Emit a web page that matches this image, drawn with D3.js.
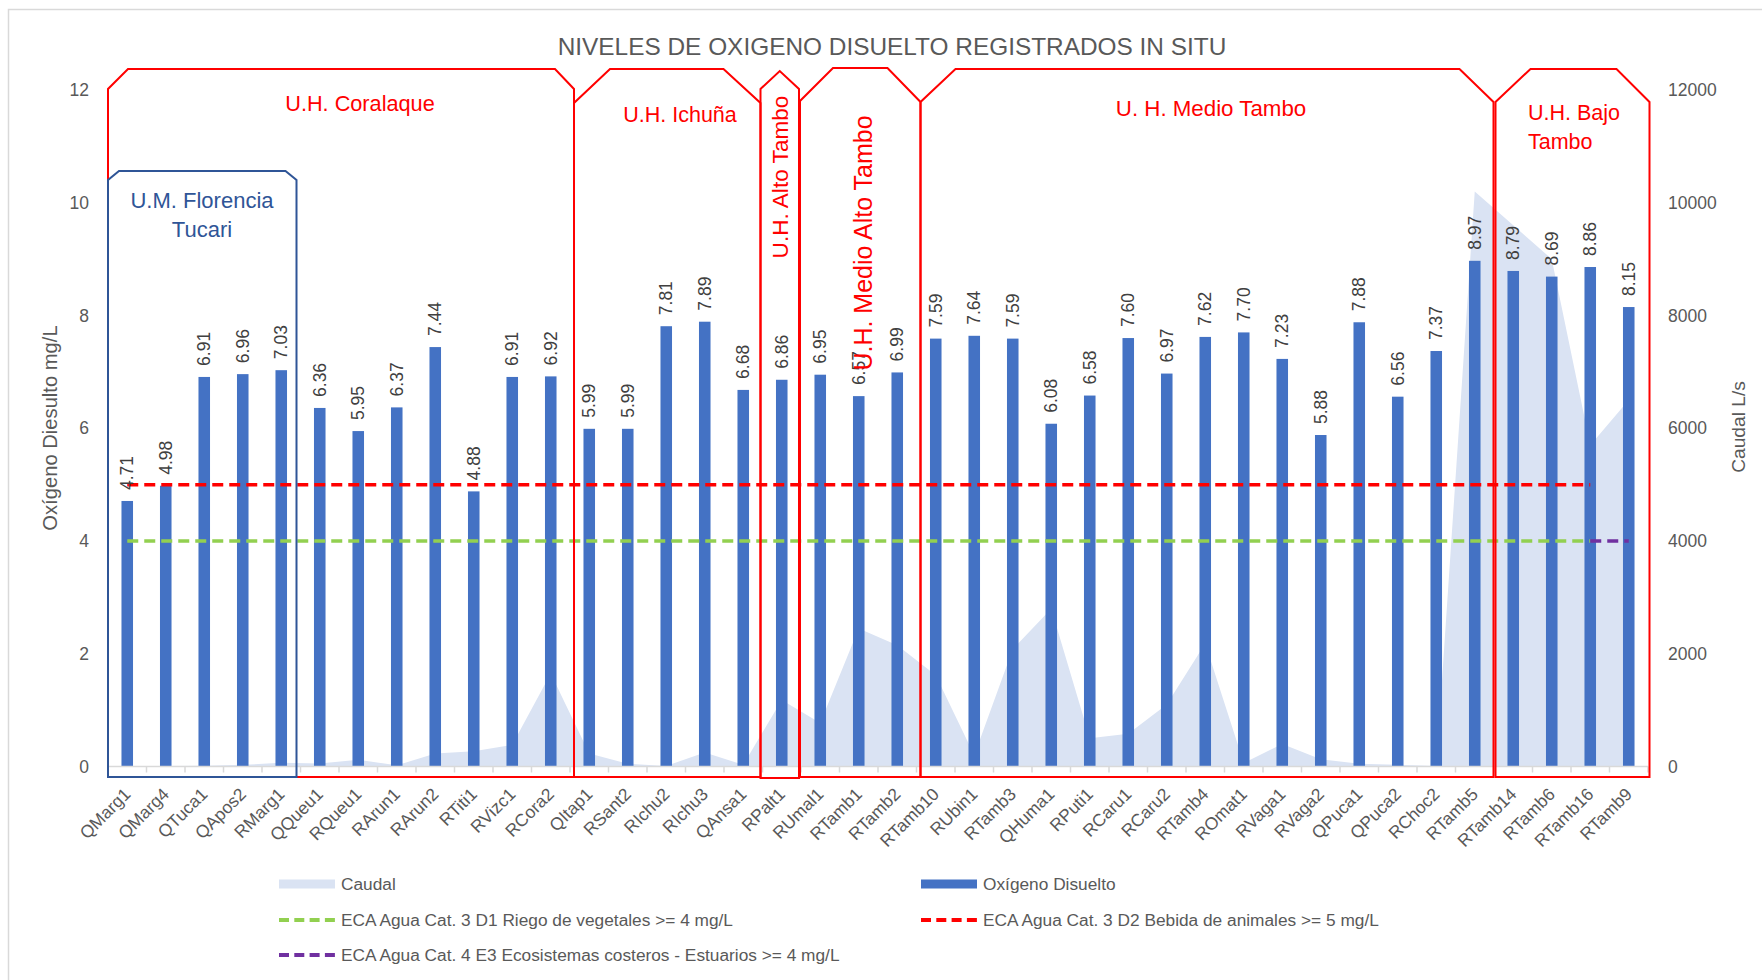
<!DOCTYPE html>
<html>
<head>
<meta charset="utf-8">
<script src="https://cdn.jsdelivr.net/npm/d3@7"></script>
<style>
  body { margin: 0; background: #ffffff; }
  svg text { font-family: "Liberation Sans", Arial, sans-serif; }
</style>
</head>
<body>
<div id="chart"></div>
<script>
// --- DATA ---
const categories = [
    "QMarg1", "QMarg4", "QTuca1", "QApos2", "RMarg1", "QQueu1", "RQueu1", "RArun1",
    "RArun2", "RTiti1", "RVizc1", "RCora2", "QItap1", "RSant2", "RIchu2", "RIchu3",
    "QAnsa1", "RPalt1", "RUmal1", "RTamb1", "RTamb2", "RTamb10", "RUbin1", "RTamb3",
    "QHuma1", "RPuti1", "RCaru1", "RCaru2", "RTamb4", "ROmat1", "RVaga1", "RVaga2",
    "QPuca1", "QPuca2", "RChoc2", "RTamb5", "RTamb14", "RTamb6", "RTamb16", "RTamb9"
];

// Oxígeno disuelto (mg/L)
const oxygen = [
    4.71, 4.98, 6.91, 6.96, 7.03, 6.36, 5.95, 6.37,
    7.44, 4.88, 6.91, 6.92, 5.99, 5.99, 7.81, 7.89,
    6.68, 6.86, 6.95, 6.57, 6.99, 7.59, 7.64, 7.59,
    6.08, 6.58, 7.60, 6.97, 7.62, 7.70, 7.23, 5.88,
    7.88, 6.56, 7.37, 8.97, 8.79, 8.69, 8.86, 8.15
];

// Caudal (L/s)
const caudal = [
    10, 10, 15, 30, 65, 55, 120, 20,
    230, 270, 385, 1650, 230, 50, 10, 250,
    30, 1180, 770, 2450, 2150, 1620, 200, 2080,
    2800, 500, 580, 1100, 2180, 60, 400, 130,
    50, 30, 10, 10200, 9600, 9000, 5700, 6500
];

// ECA thresholds: [first station, value], [last station, value]
const ecaRiego = [["QMarg1", 4], ["RTamb16", 4]];
const ecaBebida = [["QMarg1", 5], ["RTamb16", 5]];
const ecaEstuarios = [["RTamb16", 4], ["RTamb9", 4]];

const leftTicks = [0, 2, 4, 6, 8, 10, 12];
const rightTicks = [0, 2000, 4000, 6000, 8000, 10000, 12000];

// hydrographic units: label lines, first and last station
const units = [
    { key: "coralaque", lines: ["U.H. Coralaque"], first: "QMarg1", last: "RCora2" },
    { key: "florencia", lines: ["U.M. Florencia", "Tucari"], first: "QMarg1", last: "RMarg1" },
    { key: "ichuna", lines: ["U.H. Ichuña"], first: "QItap1", last: "QAnsa1" },
    { key: "alto", lines: ["U.H. Alto Tambo"], first: "RPalt1", last: "RPalt1" },
    { key: "medioAlto", lines: ["U.H. Medio Alto Tambo"], first: "RUmal1", last: "RTamb2" },
    { key: "medio", lines: ["U. H. Medio Tambo"], first: "RTamb10", last: "RTamb5" },
    { key: "bajo", lines: ["U.H. Bajo", "Tambo"], first: "RTamb14", last: "RTamb9" }
];

// --- LAYOUT / STYLE ---
const CFG = {
    width: 1762, height: 980,
    plot: { left: 108, right: 1648, top: 90, bottom: 766.5 },
    colors: {
        bar: "#4472C4", area: "#DAE3F3", text: "#595959", label: "#404040",
        axis: "#D9D9D9", red: "#FF0000", green: "#92D050", purple: "#7030A0", blue: "#2F5597"
    },
    fontSize: 17.5,
    // shape geometry for each unit box (top edge, corner snips, edge nudges, label placement)
    shapes: {
        coralaque: { top: 69, cl: [20, 20], cr: [19, 20], dx0: 0, dx1: 4, color: "red",
                     text: { x: 360, y: 103, anchor: "middle", size: 21.7 } },
        florencia: { top: 171, cl: [11, 9], cr: [11, 9], dx0: 0, dx1: -4, color: "blue",
                     text: { x: 202, y: 200, anchor: "middle", size: 22 } },
        ichuna: { top: 69, cl: [36, 34], cr: [37, 34], dx0: 4, dx1: -2, color: "red",
                  text: { x: 680, y: 114, anchor: "middle", size: 21.5 } },
        alto: { top: 71, point: 18, dx0: -2, dx1: -2, color: "red", bottom: 778,
                text: { x: 780, y: 177, anchor: "middle", rotate: true, size: 22.6 } },
        medioAlto: { top: 68, cl: [33, 33], cr: [33, 34], dx0: -1, dx1: 4, color: "red",
                     text: { x: 863, y: 243, anchor: "middle", rotate: true, size: 25 } },
        medio: { top: 69, cl: [35, 33], cr: [34, 33], dx0: 4, dx1: -0.5, color: "red",
                 text: { x: 1211, y: 108, anchor: "middle", size: 22.3 } },
        bajo: { top: 69, cl: [35, 33], cr: [33, 33], dx0: 1.5, dx1: 1.5, color: "red",
                text: { x: 1528, y: 112, anchor: "start", size: 21.5 } }
    }
};

function renderChart() {
    const { plot, colors, fontSize } = CFG;

    const svg = d3.select("#chart").append("svg")
        .attr("width", CFG.width)
        .attr("height", CFG.height);

    // chart frame (runs off the right / bottom edge like the original)
    svg.append("rect")
        .attr("x", 8.5).attr("y", 9.5)
        .attr("width", 1800).attr("height", 1000)
        .attr("fill", "#fff")
        .attr("stroke", colors.axis)
        .attr("stroke-width", 1.5);

    // scales
    const x = d3.scaleBand().domain(categories).range([plot.left, plot.right]);
    const cx = c => x(c) + x.bandwidth() / 2;
    const yL = d3.scaleLinear().domain([0, 12]).range([plot.bottom, plot.top]);
    const yR = d3.scaleLinear().domain([0, 12000]).range([plot.bottom, plot.top]);

    // title
    svg.append("text")
        .attr("x", 892).attr("y", 55)
        .attr("text-anchor", "middle")
        .attr("font-size", 24.4)
        .attr("fill", colors.text)
        .text("NIVELES DE OXIGENO DISUELTO REGISTRADOS IN SITU");

    // Caudal area (secondary axis)
    const area = d3.area()
        .x((d, i) => cx(categories[i]))
        .y0(yR(0))
        .y1(d => yR(d));

    svg.append("path")
        .datum(caudal)
        .attr("fill", colors.area)
        .attr("d", area);

    // bars
    const barW = x.bandwidth() * 0.3;
    svg.append("g").selectAll("rect")
        .data(oxygen)
        .enter().append("rect")
        .attr("x", (d, i) => cx(categories[i]) - barW / 2)
        .attr("y", d => yL(d))
        .attr("width", barW)
        .attr("height", d => yL(0) - yL(d))
        .attr("fill", colors.bar);

    // x axis: line, boundary ticks, rotated labels
    const xAxis = svg.append("g")
        .attr("transform", `translate(0,${plot.bottom})`)
        .call(d3.axisBottom(x).tickSize(0).tickPadding(0));
    xAxis.select(".domain").remove();
    xAxis.append("line")
        .attr("x1", plot.left).attr("x2", plot.right)
        .attr("stroke", colors.axis).attr("stroke-width", 1.5);
    xAxis.selectAll(".bound")
        .data(categories.map(c => x(c)).concat([plot.right]))
        .enter().append("line")
        .attr("x1", d => d).attr("x2", d => d)
        .attr("y1", 0).attr("y2", 6)
        .attr("stroke", colors.axis).attr("stroke-width", 1.5);
    xAxis.selectAll(".tick text")
        .attr("y", 0).attr("dy", "0.35em")
        .attr("transform", "translate(0,24.5) rotate(-45)")
        .attr("text-anchor", "end")
        .attr("font-size", fontSize)
        .attr("font-family", null)
        .attr("fill", colors.text);

    // left axis
    const leftAxis = svg.append("g")
        .attr("transform", `translate(${plot.left},0)`)
        .call(d3.axisLeft(yL).tickValues(leftTicks).tickSize(0).tickPadding(19));
    leftAxis.select(".domain").remove();
    leftAxis.selectAll("text")
        .attr("font-size", fontSize).attr("font-family", null).attr("fill", colors.text);

    // right axis
    const rightAxis = svg.append("g")
        .attr("transform", `translate(${plot.right},0)`)
        .call(d3.axisRight(yR).tickValues(rightTicks).tickSize(0).tickPadding(20).tickFormat(d3.format("d")));
    rightAxis.select(".domain").remove();
    rightAxis.selectAll("text")
        .attr("font-size", fontSize).attr("font-family", null).attr("fill", colors.text);

    // axis titles
    svg.append("text")
        .attr("transform", "translate(50,428) rotate(-90)")
        .attr("text-anchor", "middle").attr("dy", "0.35em")
        .attr("font-size", 20.2).attr("fill", colors.text)
        .text("Oxígeno Diesulto mg/L");
    svg.append("text")
        .attr("transform", "translate(1738,427) rotate(-90)")
        .attr("text-anchor", "middle").attr("dy", "0.35em")
        .attr("font-size", 19.2).attr("fill", colors.text)
        .text("Caudal L/s");

    // ECA threshold lines
    const line = d3.line().x(d => cx(d[0])).y(d => yL(d[1]));
    [[ecaRiego, colors.green], [ecaBebida, colors.red], [ecaEstuarios, colors.purple]]
        .forEach(([data, color]) => {
            svg.append("path")
                .attr("d", line(data))
                .attr("fill", "none")
                .attr("stroke", color)
                .attr("stroke-width", 3.5)
                .attr("stroke-dasharray", "11,6");
        });

    // data labels
    svg.append("g").selectAll("text")
        .data(oxygen)
        .enter().append("text")
        .attr("transform", (d, i) => `translate(${cx(categories[i])},${yL(d) - 11}) rotate(-90)`)
        .attr("dy", "0.35em")
        .attr("font-size", fontSize)
        .attr("fill", colors.label)
        .text(d => d.toFixed(2));

    // unit boxes
    const shapeG = svg.append("g").attr("fill", "none");
    units.forEach(u => {
        const s = CFG.shapes[u.key];
        const x0 = x(u.first) + s.dx0;
        const x1 = x(u.last) + x.bandwidth() + s.dx1;
        const bottom = s.bottom || 777;
        const col = colors[s.color];
        let d;
        if (s.point) {
            d = `M${x0},${bottom}L${x0},${s.top + s.point}L${(x0 + x1) / 2},${s.top}` +
                `L${x1},${s.top + s.point}L${x1},${bottom}Z`;
        } else {
            d = `M${x0},${bottom}L${x0},${s.top + s.cl[1]}L${x0 + s.cl[0]},${s.top}` +
                `L${x1 - s.cr[0]},${s.top}L${x1},${s.top + s.cr[1]}L${x1},${bottom}Z`;
        }
        shapeG.append("path")
            .attr("d", d)
            .attr("stroke", col)
            .attr("stroke-width", 2);

        const t = s.text;
        const label = svg.append("text")
            .attr("text-anchor", t.anchor)
            .attr("font-size", t.size)
            .attr("fill", col);
        if (t.rotate) {
            label.attr("transform", `translate(${t.x},${t.y}) rotate(-90)`)
                .attr("dy", "0.35em")
                .text(u.lines[0]);
        } else {
            label.selectAll("tspan")
                .data(u.lines)
                .enter().append("tspan")
                .attr("x", t.x)
                .attr("y", (l, i) => t.y + i * 29.5)
                .attr("dy", "0.35em")
                .text(l => l);
        }
    });

    // legend
    const legend = svg.append("g").attr("font-size", 17.3).attr("fill", colors.text);
    const legendItems = [
        { label: "Caudal", type: "rect", color: colors.area, x: 279, y: 884 },
        { label: "Oxígeno Disuelto", type: "rect", color: colors.bar, x: 921, y: 884 },
        { label: "ECA Agua Cat. 3 D1 Riego de vegetales >= 4 mg/L", type: "line", color: colors.green, x: 279, y: 920 },
        { label: "ECA Agua Cat. 3 D2 Bebida de animales >= 5 mg/L", type: "line", color: colors.red, x: 921, y: 920 },
        { label: "ECA Agua Cat. 4 E3 Ecosistemas costeros - Estuarios >= 4 mg/L", type: "line", color: colors.purple, x: 279, y: 955 }
    ];
    legendItems.forEach(it => {
        if (it.type === "rect") {
            legend.append("rect")
                .attr("x", it.x).attr("y", it.y - 4.5)
                .attr("width", 56).attr("height", 9)
                .attr("fill", it.color);
        } else {
            legend.append("line")
                .attr("x1", it.x).attr("x2", it.x + 56)
                .attr("y1", it.y).attr("y2", it.y)
                .attr("stroke", it.color)
                .attr("stroke-width", 4)
                .attr("stroke-dasharray", "10,5.3");
        }
        legend.append("text")
            .attr("x", it.x + 62).attr("y", it.y)
            .attr("dy", "0.35em")
            .text(it.label);
    });
}

renderChart();
</script>
</body>
</html>
